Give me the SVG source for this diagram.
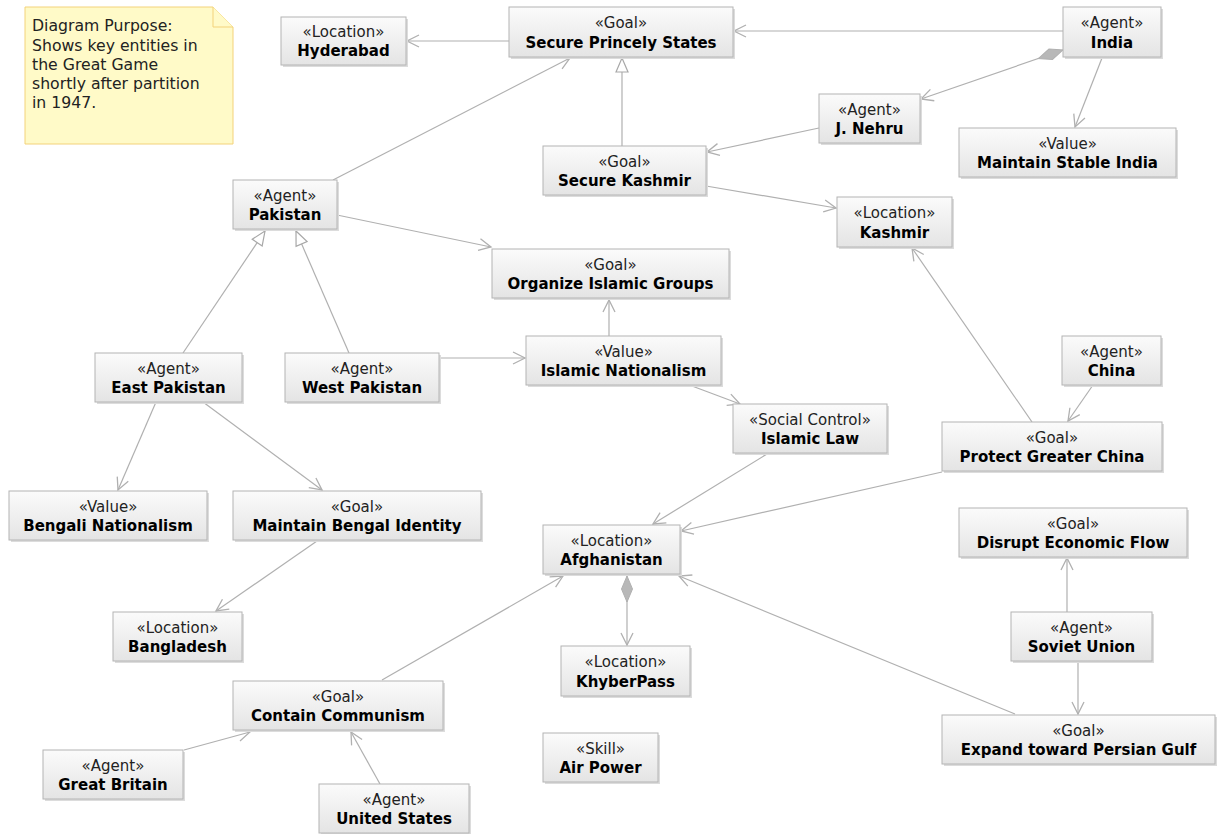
<svg xmlns="http://www.w3.org/2000/svg" width="1217" height="834" viewBox="0 0 1217 834">
<style>
.bg{fill:#ffffff}
.sh{fill:#dcdcdc}
.box{fill:url(#g);stroke:#b4b4b4;stroke-width:1}
.st{font-family:"DejaVu Sans",Verdana,sans-serif;font-size:15px;fill:#222;text-anchor:middle}
.nm{font-family:"DejaVu Sans",Verdana,sans-serif;font-size:15px;font-weight:bold;fill:#000;text-anchor:middle}
.note{fill:#fffac8;stroke:#f3d27a;stroke-width:1}
.nt{font-family:"DejaVu Sans",Verdana,sans-serif;font-size:15.7px;fill:#222}
.c{fill:none;stroke:#b0b0b0;stroke-width:1.2}
.a{marker-end:url(#open)}
.gen{marker-end:url(#tri)}
.comp{marker-start:url(#dia);marker-end:url(#open)}
</style>
<defs>
<linearGradient id="g" x1="0" y1="0" x2="0" y2="1">
<stop offset="0" stop-color="#fbfbfb"/>
<stop offset="1" stop-color="#e4e4e4"/>
</linearGradient>
<marker id="open" markerUnits="userSpaceOnUse" markerWidth="16" markerHeight="16" viewBox="-1 -8 14 16" refX="12" refY="0" orient="auto" overflow="visible">
<path d="M0,-6 L12,0 L0,6" fill="none" stroke="#b0b0b0" stroke-width="1.3"/>
</marker>
<marker id="tri" markerUnits="userSpaceOnUse" markerWidth="18" markerHeight="16" viewBox="-1 -8 17 16" refX="14" refY="0" orient="auto" overflow="visible">
<path d="M0,-6 L14,0 L0,6 Z" fill="#ffffff" stroke="#a8a8a8" stroke-width="1.2"/>
</marker>
<marker id="dia" markerUnits="userSpaceOnUse" markerWidth="30" markerHeight="14" viewBox="-1 -7 30 14" refX="0" refY="0" orient="auto" overflow="visible">
<path d="M0,0 L13,-5.5 L26,0 L13,5.5 Z" fill="#b8b8b8" stroke="#b0b0b0" stroke-width="1"/>
</marker>
</defs>
<rect class="bg" x="0" y="0" width="1217" height="834"/>

<g id="connectors">
<line class="c a" x1="509" y1="41" x2="407" y2="41"/>
<line class="c a" x1="1063" y1="31" x2="734" y2="31"/>
<line class="c a" x1="333" y1="180" x2="570" y2="58"/>
<line class="c gen" x1="622" y1="146" x2="622" y2="58"/>
<line class="c comp" x1="1063" y1="50" x2="921" y2="99"/>
<line class="c a" x1="1102" y1="58" x2="1075" y2="127"/>
<line class="c a" x1="819" y1="128" x2="707" y2="152"/>
<line class="c a" x1="706" y1="186" x2="836" y2="208"/>
<line class="c a" x1="337" y1="215" x2="491" y2="247"/>
<line class="c gen" x1="183" y1="353" x2="265" y2="231"/>
<line class="c gen" x1="349" y1="353" x2="296" y2="231"/>
<line class="c a" x1="439" y1="358" x2="525" y2="358"/>
<line class="c a" x1="609" y1="336" x2="609" y2="300"/>
<line class="c a" x1="692" y1="386" x2="740" y2="404"/>
<line class="c a" x1="767" y1="454" x2="653" y2="524"/>
<line class="c a" x1="942" y1="472" x2="681" y2="531"/>
<line class="c a" x1="1032" y1="422" x2="912" y2="248"/>
<line class="c a" x1="1093" y1="385" x2="1068" y2="421"/>
<line class="c a" x1="156" y1="402" x2="118" y2="490"/>
<line class="c a" x1="203" y1="402" x2="322" y2="490"/>
<line class="c a" x1="317" y1="541" x2="216" y2="611"/>
<line class="c a" x1="382" y1="680" x2="563" y2="576"/>
<line class="c comp" x1="627" y1="576" x2="627" y2="645"/>
<line class="c a" x1="1015" y1="714" x2="679" y2="576"/>
<line class="c a" x1="1067" y1="612" x2="1067" y2="558"/>
<line class="c a" x1="1078" y1="661" x2="1078" y2="714"/>
<line class="c a" x1="184" y1="750" x2="250" y2="732"/>
<line class="c a" x1="380" y1="784" x2="351" y2="732"/>
</g>

<g id="note">
<path class="note" d="M25,7 H213 L233,27 V144 H25 Z"/>
<path class="note" d="M213,7 V27 H233"/>
<text class="nt" x="32" y="31">Diagram Purpose:</text>
<text class="nt" x="32" y="51">Shows key entities in</text>
<text class="nt" x="32" y="70">the Great Game</text>
<text class="nt" x="32" y="89">shortly after partition</text>
<text class="nt" x="32" y="108">in 1947.</text>
</g>

<g id="n-hyderabad"><rect class="sh" x="283" y="19" width="125" height="48"/><rect class="box" x="281" y="17" width="125" height="48"/><text class="st" x="343.5" y="37">«Location»</text><text class="nm" x="343.5" y="56">Hyderabad</text></g>
<g id="n-secure-princely-states"><rect class="sh" x="511" y="9" width="224" height="50"/><rect class="box" x="509" y="7" width="224" height="50"/><text class="st" x="621" y="28">«Goal»</text><text class="nm" x="621" y="48">Secure Princely States</text></g>
<g id="n-india"><rect class="sh" x="1065" y="9" width="98" height="50"/><rect class="box" x="1063" y="7" width="98" height="50"/><text class="st" x="1112" y="28">«Agent»</text><text class="nm" x="1112" y="48">India</text></g>
<g id="n-nehru"><rect class="sh" x="821" y="96" width="101" height="49"/><rect class="box" x="819" y="94" width="101" height="49"/><text class="st" x="869.5" y="115">«Agent»</text><text class="nm" x="869.5" y="134">J. Nehru</text></g>
<g id="n-maintain-stable-india"><rect class="sh" x="961" y="130" width="217" height="49"/><rect class="box" x="959" y="128" width="217" height="49"/><text class="st" x="1067.5" y="149">«Value»</text><text class="nm" x="1067.5" y="168">Maintain Stable India</text></g>
<g id="n-secure-kashmir"><rect class="sh" x="545" y="148" width="163" height="49"/><rect class="box" x="543" y="146" width="163" height="49"/><text class="st" x="624.5" y="167">«Goal»</text><text class="nm" x="624.5" y="186">Secure Kashmir</text></g>
<g id="n-kashmir"><rect class="sh" x="839" y="199" width="115" height="50"/><rect class="box" x="837" y="197" width="115" height="50"/><text class="st" x="894.5" y="218">«Location»</text><text class="nm" x="894.5" y="238">Kashmir</text></g>
<g id="n-pakistan"><rect class="sh" x="235" y="182" width="104" height="49"/><rect class="box" x="233" y="180" width="104" height="49"/><text class="st" x="285" y="201">«Agent»</text><text class="nm" x="285" y="220">Pakistan</text></g>
<g id="n-organize-islamic-groups"><rect class="sh" x="494" y="251" width="237" height="49"/><rect class="box" x="492" y="249" width="237" height="49"/><text class="st" x="610.5" y="270">«Goal»</text><text class="nm" x="610.5" y="289">Organize Islamic Groups</text></g>
<g id="n-east-pakistan"><rect class="sh" x="97" y="355" width="147" height="49"/><rect class="box" x="95" y="353" width="147" height="49"/><text class="st" x="168.5" y="374">«Agent»</text><text class="nm" x="168.5" y="393">East Pakistan</text></g>
<g id="n-west-pakistan"><rect class="sh" x="287" y="355" width="154" height="49"/><rect class="box" x="285" y="353" width="154" height="49"/><text class="st" x="362" y="374">«Agent»</text><text class="nm" x="362" y="393">West Pakistan</text></g>
<g id="n-islamic-nationalism"><rect class="sh" x="528" y="338" width="195" height="49"/><rect class="box" x="526" y="336" width="195" height="49"/><text class="st" x="623.5" y="357">«Value»</text><text class="nm" x="623.5" y="376">Islamic Nationalism</text></g>
<g id="n-islamic-law"><rect class="sh" x="735" y="406" width="154" height="49"/><rect class="box" x="733" y="404" width="154" height="49"/><text class="st" x="810" y="425">«Social Control»</text><text class="nm" x="810" y="444">Islamic Law</text></g>
<g id="n-china"><rect class="sh" x="1064" y="338" width="99" height="49"/><rect class="box" x="1062" y="336" width="99" height="49"/><text class="st" x="1111.5" y="357">«Agent»</text><text class="nm" x="1111.5" y="376">China</text></g>
<g id="n-protect-greater-china"><rect class="sh" x="944" y="424" width="220" height="49"/><rect class="box" x="942" y="422" width="220" height="49"/><text class="st" x="1052" y="443">«Goal»</text><text class="nm" x="1052" y="462">Protect Greater China</text></g>
<g id="n-disrupt-economic-flow"><rect class="sh" x="961" y="510" width="228" height="49"/><rect class="box" x="959" y="508" width="228" height="49"/><text class="st" x="1073" y="529">«Goal»</text><text class="nm" x="1073" y="548">Disrupt Economic Flow</text></g>
<g id="n-soviet-union"><rect class="sh" x="1013" y="614" width="141" height="49"/><rect class="box" x="1011" y="612" width="141" height="49"/><text class="st" x="1081.5" y="633">«Agent»</text><text class="nm" x="1081.5" y="652">Soviet Union</text></g>
<g id="n-expand-persian-gulf"><rect class="sh" x="944" y="717" width="273" height="49"/><rect class="box" x="942" y="715" width="273" height="49"/><text class="st" x="1078.5" y="736">«Goal»</text><text class="nm" x="1078.5" y="755">Expand toward Persian Gulf</text></g>
<g id="n-bengali-nationalism"><rect class="sh" x="11" y="493" width="198" height="49"/><rect class="box" x="9" y="491" width="198" height="49"/><text class="st" x="108" y="512">«Value»</text><text class="nm" x="108" y="531">Bengali Nationalism</text></g>
<g id="n-maintain-bengal-identity"><rect class="sh" x="235" y="493" width="248" height="49"/><rect class="box" x="233" y="491" width="248" height="49"/><text class="st" x="357" y="512">«Goal»</text><text class="nm" x="357" y="531">Maintain Bengal Identity</text></g>
<g id="n-afghanistan"><rect class="sh" x="545" y="527" width="137" height="49"/><rect class="box" x="543" y="525" width="137" height="49"/><text class="st" x="611.5" y="546">«Location»</text><text class="nm" x="611.5" y="565">Afghanistan</text></g>
<g id="n-bangladesh"><rect class="sh" x="115" y="614" width="129" height="49"/><rect class="box" x="113" y="612" width="129" height="49"/><text class="st" x="177.5" y="633">«Location»</text><text class="nm" x="177.5" y="652">Bangladesh</text></g>
<g id="n-khyberpass"><rect class="sh" x="563" y="648" width="129" height="50"/><rect class="box" x="561" y="646" width="129" height="50"/><text class="st" x="625.5" y="667">«Location»</text><text class="nm" x="625.5" y="687">KhyberPass</text></g>
<g id="n-contain-communism"><rect class="sh" x="235" y="683" width="210" height="49"/><rect class="box" x="233" y="681" width="210" height="49"/><text class="st" x="338" y="702">«Goal»</text><text class="nm" x="338" y="721">Contain Communism</text></g>
<g id="n-air-power"><rect class="sh" x="545" y="735" width="115" height="49"/><rect class="box" x="543" y="733" width="115" height="49"/><text class="st" x="600.5" y="754">«Skill»</text><text class="nm" x="600.5" y="773">Air Power</text></g>
<g id="n-great-britain"><rect class="sh" x="45" y="752" width="140" height="49"/><rect class="box" x="43" y="750" width="140" height="49"/><text class="st" x="113" y="771">«Agent»</text><text class="nm" x="113" y="790">Great Britain</text></g>
<g id="n-united-states"><rect class="sh" x="321" y="786" width="150" height="48"/><rect class="box" x="319" y="784" width="150" height="49"/><text class="st" x="394" y="805">«Agent»</text><text class="nm" x="394" y="824">United States</text></g>
</svg>
